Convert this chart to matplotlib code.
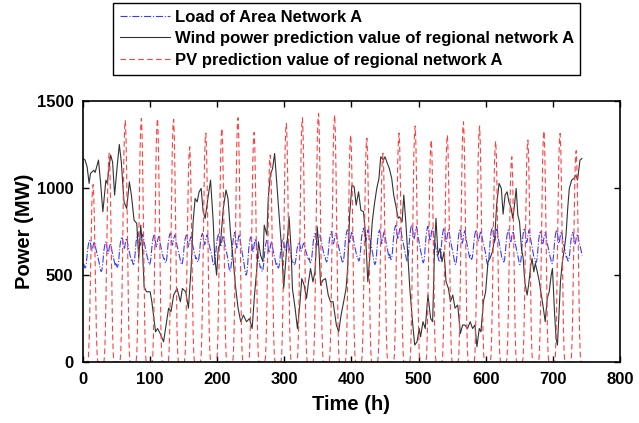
import matplotlib
matplotlib.use("Agg")
import matplotlib.pyplot as plt
import numpy as np

# daily PV peaks (MW), one per day of the month
pv_peak = [1020, 1200, 1390, 1400, 1400, 1395, 1237, 1316, 1343, 1404,
           1320, 1190, 1372, 1404, 1429, 1420, 1305, 1287, 1200, 1316,
           1357, 1276, 1305, 1381, 1357, 1270, 1180, 1276, 1328, 1314, 1215]
# hourly PV profile, fraction of the daily peak
pv_shape = [0, 0, 0, 0, 0, 0, 0, 0.03, 0.12, 0.28, 0.48, 0.7, 0.88, 0.97,
            1.0, 0.93, 0.77, 0.55, 0.33, 0.14, 0.04, 0, 0, 0]

# daily load max / min (MW)
load_max = [700, 690, 720, 745, 730, 740, 730, 740, 735, 745,
            720, 700, 710, 690, 740, 750, 760, 770, 760, 785,
            790, 780, 770, 765, 760, 775, 760, 770, 755, 760, 745]
load_min = [540, 520, 545, 560, 560, 570, 560, 575, 555, 520,
            500, 520, 540, 560, 570, 575, 570, 580, 560, 590,
            580, 570, 575, 560, 590, 560, 575, 560, 570, 565, 580]
load_shape = [0.15, 0.05, 0.0, 0.05, 0.2, 0.45, 0.7, 0.85, 0.95, 1.0,
              0.9, 0.75, 0.6, 0.65, 0.8, 0.9, 0.95, 0.85, 0.7, 0.6,
              0.5, 0.4, 0.3, 0.2]

# wind power prediction
wind_t = [0, 3, 6, 9, 11, 16, 18, 23, 26, 29.5, 34, 36, 41, 44, 47, 51, 54, 57,
          61, 65, 69, 72, 76, 80, 83, 86, 88, 91, 94.5, 100, 102.5, 108, 111,
          115, 120, 127.5, 131, 135, 140, 145, 148, 153, 157, 161, 164, 167,
          170, 173, 176, 179, 182, 186, 190, 194, 196, 199, 201.5, 205, 209,
          213, 216, 220, 224, 227, 231, 235, 239, 243.5, 248, 252, 255.5, 259,
          261.5, 264.5, 268, 270, 274, 276, 279, 282.5, 285.5, 288.5, 292.5,
          296, 299, 302, 305, 307, 310, 312, 316, 319.5, 323, 326, 329.5, 333,
          336, 339, 342.6, 345.6, 349, 351.5, 354, 357.5, 361.4, 365.4, 368.8,
          372.6, 377.5, 381, 384.5, 388.4, 392, 394.3, 397.3, 400.7, 404, 407,
          410.6, 414, 418, 421, 424.4, 428, 431, 434, 437.7, 441, 443.6, 447.6,
          450, 453.5, 456.4, 460, 463, 466, 469.7, 472, 475.5, 478, 481, 484,
          487, 491, 494.3, 497.8, 501, 503, 506.6, 510, 514, 518, 521, 524,
          526, 529, 532, 535, 538, 541, 544.6, 547.5, 551, 554.4, 558.4, 562.3,
          565.7, 569, 573, 577, 580.5, 584, 587, 590.5, 593, 596.7, 600, 603.5,
          606.4, 610, 613.5, 616.4, 620, 623.4, 626, 629, 632, 634.7, 638,
          640.5, 643, 645.5, 648, 650.5, 653.4, 656, 658.3, 661.8, 664, 667.3,
          669.2, 671.8, 674, 677, 680, 683, 686, 688.8, 691.8, 694.7, 697.7,
          699.6, 702.6, 705, 707, 709.5, 711.5, 714.4, 717.4, 719.8, 722.3,
          724.7, 728.2, 731.6, 734.6, 737, 740.6, 743.5]
wind_v = [1170, 1161, 1122, 1027, 1084, 1103, 1090, 1161, 1036, 864, 1046, 1027,
          1190, 1150, 960, 1132, 1251, 1150, 921, 883, 1036, 960, 816, 797, 596,
          787, 691, 433, 404, 404, 347, 174, 193, 164, 117, 310, 290, 385, 423,
          347, 423, 404, 310, 538, 806, 940, 921, 979, 998, 864, 826, 940, 1046,
          806, 615, 500, 653, 691, 883, 989, 940, 730, 577, 442, 310, 232, 270,
          232, 250, 193, 385, 538, 691, 615, 577, 787, 730, 940, 1075, 1113,
          1199, 1036, 826, 653, 423, 577, 730, 835, 653, 423, 310, 193, 328, 480,
          442, 366, 461, 538, 461, 519, 778, 653, 442, 471, 480, 385, 347, 347,
          213, 174, 270, 347, 423, 538, 845, 1017, 1008, 902, 979, 873, 864, 730,
          461, 634, 806, 902, 998, 1056, 1180, 1161, 1180, 1142, 1113, 1056, 960,
          902, 826, 835, 806, 960, 806, 615, 423, 232, 98, 117, 193, 145, 232,
          193, 385, 251, 232, 672, 826, 615, 653, 577, 634, 461, 423, 347, 385,
          310, 328, 164, 213, 213, 193, 232, 193, 213, 88, 193, 174, 347, 404,
          577, 596, 634, 710, 902, 1027, 998, 850, 960, 979, 921, 883, 826, 902,
          998, 845, 806, 653, 596, 461, 385, 442, 557, 596, 519, 567, 519, 461,
          385, 310, 232, 366, 404, 500, 538, 290, 136, 98, 290, 461, 577, 653,
          730, 883, 998, 1046, 1056, 1075, 1046, 1161, 1170]

hours = np.arange(1, 24 * len(pv_peak) + 1)
pv = np.concatenate([p * np.array(pv_shape) for p in pv_peak])
load = np.concatenate([lo + (hi - lo) * np.array(load_shape)
                       for hi, lo in zip(load_max, load_min)])

plt.rcParams['font.family'] = ['Liberation Sans', 'DejaVu Sans']
plt.rcParams['font.weight'] = 'bold'
plt.rcParams['axes.labelweight'] = 'bold'

fig = plt.figure(figsize=(6.39, 4.23), dpi=100)
ax = fig.add_axes([0.130, 0.144, 0.840, 0.617])

ax.plot(hours, load, color='#3a3aff', lw=0.8, linestyle='-.',
        label='Load of Area Network A')
ax.plot(wind_t, wind_v, color='#333333', lw=0.8,
        label='Wind power prediction value of regional network A')
ax.plot(hours, pv, color='#ff4040', lw=0.8, linestyle=(0, (5, 3)),
        label='PV prediction value of regional network A')

ax.set_xlim(0, 800)
ax.set_ylim(0, 1500)
ax.set_xticks(range(0, 801, 100))
ax.set_yticks([0, 500, 1000, 1500])
ax.tick_params(direction='in', top=True, right=True, length=4, width=1,
               labelsize=12, pad=7)
for s in ax.spines.values():
    s.set_linewidth(1.2)
ax.set_xlabel('Time (h)', fontsize=14.5, labelpad=6)
ax.set_ylabel('Power (MW)', fontsize=14.5, labelpad=2)

fig.legend(loc='upper left', bbox_to_anchor=(113 / 639, 1 - 3 / 423),
           borderaxespad=0, fontsize=12, handlelength=3.0, frameon=True,
           fancybox=False, edgecolor='black', framealpha=1, borderpad=0.4,
           labelspacing=0.4, handletextpad=0.3)

fig.savefig('out.png', dpi=100)
